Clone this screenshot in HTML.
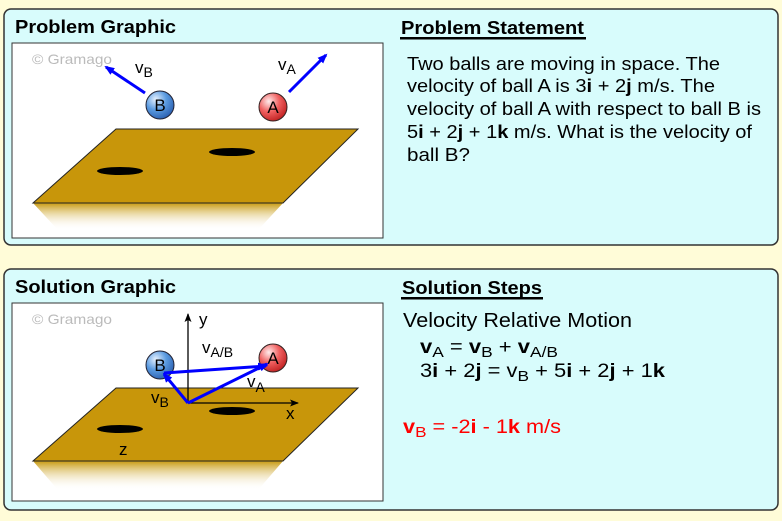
<!DOCTYPE html>
<html><head><style>
body{margin:0;background:#fffcd8;}
svg{display:block;font-family:"Liberation Sans",Arial,sans-serif;}
</style></head><body>
<svg width="782" height="521" viewBox="0 0 782 521" xmlns="http://www.w3.org/2000/svg">
<defs>
<linearGradient id="sh" x1="0" y1="0" x2="0" y2="1">
<stop offset="0" stop-color="#c89a10"/><stop offset="1" stop-color="#fff" stop-opacity="0"/>
</linearGradient>
<radialGradient id="gb" cx="0.35" cy="0.3" r="0.75"><stop offset="0" stop-color="#e8f2ff"/><stop offset="0.5" stop-color="#5b9be0"/><stop offset="1" stop-color="#2a5fb0"/></radialGradient>
<radialGradient id="ga" cx="0.35" cy="0.3" r="0.75"><stop offset="0" stop-color="#ffecec"/><stop offset="0.5" stop-color="#f06060"/><stop offset="1" stop-color="#c02020"/></radialGradient>
<marker id="ar" markerWidth="10" markerHeight="8" refX="8" refY="4" orient="auto" markerUnits="userSpaceOnUse"><path d="M0,0 L10,4 L0,8 Z" fill="#0000ff"/></marker>
<marker id="ak" markerWidth="9" markerHeight="7" refX="8" refY="3.5" orient="auto" markerUnits="userSpaceOnUse"><path d="M0,0 L9,3.5 L0,7 L2,3.5 Z" fill="#000"/></marker>
</defs>
<rect width="782" height="521" fill="#fffcd8"/>
<rect x="4" y="9" width="774" height="236" rx="7" fill="#d8fcfc" stroke="#333" stroke-width="1.5"/>
<rect x="4" y="269" width="774" height="241" rx="7" fill="#d8fcfc" stroke="#333" stroke-width="1.5"/>
<text x="15" y="33" font-size="18" font-weight="bold" textLength="161" lengthAdjust="spacingAndGlyphs">Problem Graphic</text>
<text x="15" y="293" font-size="18" font-weight="bold" textLength="161" lengthAdjust="spacingAndGlyphs">Solution Graphic</text>
<rect x="12" y="43" width="371" height="195" fill="#fff" stroke="#333" stroke-width="1"/>
<rect x="12" y="303" width="371" height="198" fill="#fff" stroke="#333" stroke-width="1"/>
<text x="32" y="64" font-size="14" fill="#bbb" textLength="80" lengthAdjust="spacingAndGlyphs">© Gramago</text>
<text x="32" y="324" font-size="14" fill="#bbb" textLength="80" lengthAdjust="spacingAndGlyphs">© Gramago</text>
<!-- Problem plane -->
<polygon points="33,203 283,203 258,230 58,230" fill="url(#sh)"/>
<polygon points="116,129 358,129 283,203 33,203" fill="#c8960a" stroke="#222" stroke-width="1"/>
<ellipse cx="120" cy="171" rx="23" ry="4" fill="#000"/>
<ellipse cx="232" cy="152" rx="23" ry="4" fill="#000"/>
<circle cx="160" cy="105" r="14" fill="url(#gb)" stroke="#223" stroke-width="1"/>
<text x="160" y="111" font-size="17" text-anchor="middle">B</text>
<circle cx="273" cy="107" r="14" fill="url(#ga)" stroke="#322" stroke-width="1"/>
<text x="273" y="113" font-size="17" text-anchor="middle">A</text>
<line x1="145" y1="93" x2="106" y2="67" stroke="#0000ff" stroke-width="3" marker-end="url(#ar)"/>
<line x1="289" y1="92" x2="326" y2="55" stroke="#0000ff" stroke-width="3" marker-end="url(#ar)"/>
<text x="135" y="73" font-size="17">v<tspan font-size="14" dy="4">B</tspan></text>
<text x="278" y="70" font-size="17">v<tspan font-size="14" dy="4">A</tspan></text>
<!-- Solution plane -->
<polygon points="33,461 283,461 258,490 58,490" fill="url(#sh)"/>
<polygon points="116,388 358,388 283,461 33,461" fill="#c8960a" stroke="#222" stroke-width="1"/>
<ellipse cx="120" cy="429" rx="23" ry="4" fill="#000"/>
<ellipse cx="232" cy="411" rx="23" ry="4" fill="#000"/>
<line x1="188" y1="403" x2="188" y2="314" stroke="#000" stroke-width="1.3" marker-end="url(#ak)"/>
<line x1="188" y1="403" x2="298" y2="403" stroke="#000" stroke-width="1.3" marker-end="url(#ak)"/>
<text x="199" y="325" font-size="17">y</text>
<text x="286" y="419" font-size="17">x</text>
<text x="119" y="455" font-size="17">z</text>
<circle cx="160" cy="365" r="14" fill="url(#gb)" stroke="#223" stroke-width="1"/>
<text x="160" y="371" font-size="17" text-anchor="middle">B</text>
<circle cx="273" cy="358" r="14" fill="url(#ga)" stroke="#322" stroke-width="1"/>
<text x="273" y="364" font-size="17" text-anchor="middle">A</text>
<line x1="188" y1="403" x2="164" y2="374" stroke="#0000ff" stroke-width="3" marker-end="url(#ar)"/>
<line x1="188" y1="403" x2="267" y2="364" stroke="#0000ff" stroke-width="3" marker-end="url(#ar)"/>
<line x1="164" y1="373" x2="266" y2="366" stroke="#0000ff" stroke-width="3" marker-end="url(#ar)"/>
<text x="202" y="353" font-size="17">v<tspan font-size="14" dy="4">A/B</tspan></text>
<text x="247" y="387" font-size="17">v<tspan font-size="14" dy="5">A</tspan></text>
<text x="151" y="403" font-size="17">v<tspan font-size="14" dy="4">B</tspan></text>
<!-- Right texts -->
<text x="401" y="34" font-size="18" font-weight="bold" textLength="183" lengthAdjust="spacingAndGlyphs">Problem Statement</text>
<rect x="400" y="37" width="186" height="2.5" fill="#000"/>
<g font-size="18">
<text x="407" y="70" textLength="313" lengthAdjust="spacingAndGlyphs">Two balls are moving in space. The</text>
<text x="407" y="92" textLength="308" lengthAdjust="spacingAndGlyphs">velocity of ball A is 3<tspan font-weight="bold">i</tspan> + 2<tspan font-weight="bold">j</tspan> m/s. The</text>
<text x="407" y="115" textLength="354" lengthAdjust="spacingAndGlyphs">velocity of ball A with respect to ball B is</text>
<text x="407" y="138" textLength="345" lengthAdjust="spacingAndGlyphs">5<tspan font-weight="bold">i</tspan> + 2<tspan font-weight="bold">j</tspan> + 1<tspan font-weight="bold">k</tspan> m/s. What is the velocity of</text>
<text x="407" y="161" textLength="63" lengthAdjust="spacingAndGlyphs">ball B?</text>
</g>
<text x="402" y="294" font-size="18" font-weight="bold" textLength="140" lengthAdjust="spacingAndGlyphs">Solution Steps</text>
<rect x="401" y="297" width="142" height="2.5" fill="#000"/>
<text x="403" y="327" font-size="20" textLength="229" lengthAdjust="spacingAndGlyphs">Velocity Relative Motion</text>
<text x="420" y="353" font-size="19" font-weight="bold" textLength="138" lengthAdjust="spacingAndGlyphs">v<tspan font-weight="normal" font-size="15" dy="4">A</tspan><tspan dy="-4" font-weight="normal"> = </tspan>v<tspan font-weight="normal" font-size="15" dy="4">B</tspan><tspan dy="-4" font-weight="normal"> + </tspan>v<tspan font-weight="normal" font-size="15" dy="4">A/B</tspan></text>
<text x="420" y="377" font-size="19" textLength="245" lengthAdjust="spacingAndGlyphs">3<tspan font-weight="bold">i</tspan> + 2<tspan font-weight="bold">j</tspan> = v<tspan font-size="15" dy="4">B</tspan><tspan dy="-4"> + 5</tspan><tspan font-weight="bold">i</tspan> + 2<tspan font-weight="bold">j</tspan> + 1<tspan font-weight="bold">k</tspan></text>
<text x="403" y="433" font-size="19" fill="#ff0000" textLength="158" lengthAdjust="spacingAndGlyphs"><tspan font-weight="bold">v</tspan><tspan font-size="15" dy="4">B</tspan><tspan dy="-4"> = -2</tspan><tspan font-weight="bold">i</tspan> - 1<tspan font-weight="bold">k</tspan> m/s</text>
</svg>
</body></html>
